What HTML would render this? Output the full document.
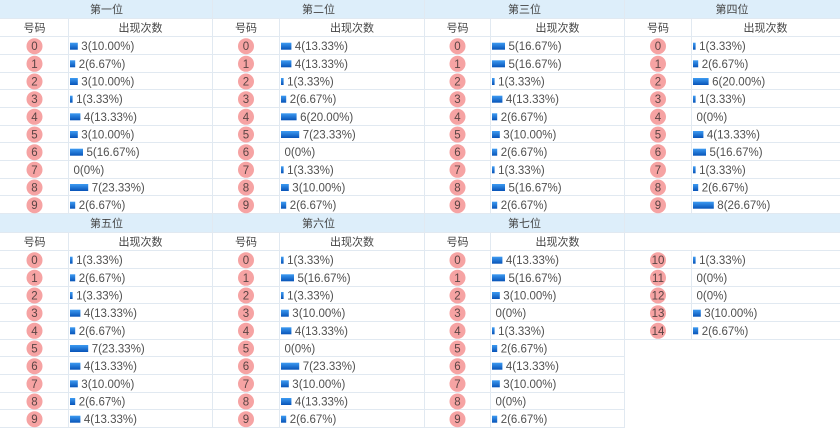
<!DOCTYPE html>
<html><head><meta charset="utf-8"><style>
html,body{margin:0;padding:0;background:#fff;}
svg{display:block;}
.h{font-family:"Liberation Sans","Noto Sans CJK SC",sans-serif;font-size:11px;fill:#444;text-anchor:middle;}
.n{font-family:"Liberation Sans",sans-serif;font-size:11.5px;fill:#5a4444;text-anchor:middle;}
.t{font-family:"Liberation Sans",sans-serif;font-size:11.5px;fill:#505050;}
circle{fill:#f6a3a3;}
rect.b{fill:url(#g);}
line{stroke:#e1e9f1;stroke-width:1;}
</style></head><body>
<svg width="840" height="442" viewBox="0 0 840 442" xmlns="http://www.w3.org/2000/svg">
<defs><linearGradient id="g" x1="0" y1="0" x2="0" y2="1"><stop offset="0" stop-color="#3d9bf2"/><stop offset="1" stop-color="#0753b8"/></linearGradient></defs>
<!-- header backgrounds -->
<rect x="0" y="0" width="840" height="18.5" fill="#ddeefa"/>
<rect x="0" y="214" width="840" height="18.5" fill="#ddeefa"/>
<!-- horizontal lines top -->
<line x1="0" y1="18.5" x2="840" y2="18.5"/>
<line x1="0" y1="36.5" x2="840" y2="36.5"/>
<line x1="0" y1="54.5" x2="840" y2="54.5"/>
<line x1="0" y1="72.5" x2="840" y2="72.5"/>
<line x1="0" y1="89.5" x2="840" y2="89.5"/>
<line x1="0" y1="107.5" x2="840" y2="107.5"/>
<line x1="0" y1="125.5" x2="840" y2="125.5"/>
<line x1="0" y1="142.5" x2="840" y2="142.5"/>
<line x1="0" y1="160.5" x2="840" y2="160.5"/>
<line x1="0" y1="178.5" x2="840" y2="178.5"/>
<line x1="0" y1="195.5" x2="840" y2="195.5"/>
<line x1="0" y1="213.5" x2="840" y2="213.5"/>
<!-- horizontal lines bottom -->
<line x1="0" y1="232.5" x2="840" y2="232.5"/>
<line x1="0" y1="250.5" x2="840" y2="250.5"/>
<line x1="0" y1="268.5" x2="840" y2="268.5"/>
<line x1="0" y1="286.5" x2="840" y2="286.5"/>
<line x1="0" y1="303.5" x2="840" y2="303.5"/>
<line x1="0" y1="321.5" x2="840" y2="321.5"/>
<line x1="0" y1="339.5" x2="840" y2="339.5"/>
<line x1="0" y1="356.5" x2="624.5" y2="356.5"/>
<line x1="0" y1="374.5" x2="624.5" y2="374.5"/>
<line x1="0" y1="392.5" x2="624.5" y2="392.5"/>
<line x1="0" y1="409.5" x2="624.5" y2="409.5"/>
<line x1="0" y1="427.5" x2="624.5" y2="427.5"/>
<!-- vertical block separators -->
<line x1="212.5" y1="0" x2="212.5" y2="428"/>
<line x1="424.5" y1="0" x2="424.5" y2="428"/>
<line x1="624.5" y1="0" x2="624.5" y2="428"/>
<!-- inner lines -->
<line x1="68.5" y1="19" x2="68.5" y2="214"/>
<line x1="279.5" y1="19" x2="279.5" y2="214"/>
<line x1="490.5" y1="19" x2="490.5" y2="214"/>
<line x1="691.5" y1="19" x2="691.5" y2="214"/>
<line x1="68.5" y1="233" x2="68.5" y2="428"/>
<line x1="279.5" y1="233" x2="279.5" y2="428"/>
<line x1="490.5" y1="233" x2="490.5" y2="428"/>
<line x1="691.5" y1="251" x2="691.5" y2="340"/>
<!-- headers -->
<text class="h" x="106.5" y="13">第一位</text>
<text class="h" x="318.5" y="13">第二位</text>
<text class="h" x="524.5" y="13">第三位</text>
<text class="h" x="732" y="13">第四位</text>
<text class="h" x="34.5" y="31.5">号码</text><text class="h" x="140.5" y="31.5">出现次数</text>
<text class="h" x="246" y="31.5">号码</text><text class="h" x="352" y="31.5">出现次数</text>
<text class="h" x="457.5" y="31.5">号码</text><text class="h" x="557.5" y="31.5">出现次数</text>
<text class="h" x="658" y="31.5">号码</text><text class="h" x="765.5" y="31.5">出现次数</text>
<text class="h" x="106.5" y="227">第五位</text>
<text class="h" x="318.5" y="227">第六位</text>
<text class="h" x="524.5" y="227">第七位</text>
<text class="h" x="34.5" y="245.5">号码</text><text class="h" x="140.5" y="245.5">出现次数</text>
<text class="h" x="246" y="245.5">号码</text><text class="h" x="352" y="245.5">出现次数</text>
<text class="h" x="457.5" y="245.5">号码</text><text class="h" x="557.5" y="245.5">出现次数</text>

<!-- Block 1 -->
<g transform="translate(68.5,0)">
<g transform="translate(0,46.2)"><circle cx="-34" r="8"/><text class="n" x="-34" y="4">0</text><rect class="b" x="1.5" y="-3.5" width="7.8" height="7"/><text class="t" x="12.8" y="4">3(10.00%)</text></g>
<g transform="translate(0,63.8)"><circle cx="-34" r="8"/><text class="n" x="-34" y="4">1</text><rect class="b" x="1.5" y="-3.5" width="5.2" height="7"/><text class="t" x="10.2" y="4">2(6.67%)</text></g>
<g transform="translate(0,81.5)"><circle cx="-34" r="8"/><text class="n" x="-34" y="4">2</text><rect class="b" x="1.5" y="-3.5" width="7.8" height="7"/><text class="t" x="12.8" y="4">3(10.00%)</text></g>
<g transform="translate(0,99.2)"><circle cx="-34" r="8"/><text class="n" x="-34" y="4">3</text><rect class="b" x="1.5" y="-3.5" width="2.6" height="7"/><text class="t" x="7.6" y="4">1(3.33%)</text></g>
<g transform="translate(0,116.8)"><circle cx="-34" r="8"/><text class="n" x="-34" y="4">4</text><rect class="b" x="1.5" y="-3.5" width="10.4" height="7"/><text class="t" x="15.4" y="4">4(13.33%)</text></g>
<g transform="translate(0,134.5)"><circle cx="-34" r="8"/><text class="n" x="-34" y="4">5</text><rect class="b" x="1.5" y="-3.5" width="7.8" height="7"/><text class="t" x="12.8" y="4">3(10.00%)</text></g>
<g transform="translate(0,152.2)"><circle cx="-34" r="8"/><text class="n" x="-34" y="4">6</text><rect class="b" x="1.5" y="-3.5" width="13" height="7"/><text class="t" x="18" y="4">5(16.67%)</text></g>
<g transform="translate(0,169.8)"><circle cx="-34" r="8"/><text class="n" x="-34" y="4">7</text><text class="t" x="5" y="4">0(0%)</text></g>
<g transform="translate(0,187.5)"><circle cx="-34" r="8"/><text class="n" x="-34" y="4">8</text><rect class="b" x="1.5" y="-3.5" width="18.2" height="7"/><text class="t" x="23.2" y="4">7(23.33%)</text></g>
<g transform="translate(0,205.2)"><circle cx="-34" r="8"/><text class="n" x="-34" y="4">9</text><rect class="b" x="1.5" y="-3.5" width="5.2" height="7"/><text class="t" x="10.2" y="4">2(6.67%)</text></g>
</g>

<!-- Block 2 -->
<g transform="translate(279.5,0)">
<g transform="translate(0,46.2)"><circle cx="-33.5" r="8"/><text class="n" x="-33.5" y="4">0</text><rect class="b" x="1.5" y="-3.5" width="10.4" height="7"/><text class="t" x="15.4" y="4">4(13.33%)</text></g>
<g transform="translate(0,63.8)"><circle cx="-33.5" r="8"/><text class="n" x="-33.5" y="4">1</text><rect class="b" x="1.5" y="-3.5" width="10.4" height="7"/><text class="t" x="15.4" y="4">4(13.33%)</text></g>
<g transform="translate(0,81.5)"><circle cx="-33.5" r="8"/><text class="n" x="-33.5" y="4">2</text><rect class="b" x="1.5" y="-3.5" width="2.6" height="7"/><text class="t" x="7.6" y="4">1(3.33%)</text></g>
<g transform="translate(0,99.2)"><circle cx="-33.5" r="8"/><text class="n" x="-33.5" y="4">3</text><rect class="b" x="1.5" y="-3.5" width="5.2" height="7"/><text class="t" x="10.2" y="4">2(6.67%)</text></g>
<g transform="translate(0,116.8)"><circle cx="-33.5" r="8"/><text class="n" x="-33.5" y="4">4</text><rect class="b" x="1.5" y="-3.5" width="15.6" height="7"/><text class="t" x="20.6" y="4">6(20.00%)</text></g>
<g transform="translate(0,134.5)"><circle cx="-33.5" r="8"/><text class="n" x="-33.5" y="4">5</text><rect class="b" x="1.5" y="-3.5" width="18.2" height="7"/><text class="t" x="23.2" y="4">7(23.33%)</text></g>
<g transform="translate(0,152.2)"><circle cx="-33.5" r="8"/><text class="n" x="-33.5" y="4">6</text><text class="t" x="5" y="4">0(0%)</text></g>
<g transform="translate(0,169.8)"><circle cx="-33.5" r="8"/><text class="n" x="-33.5" y="4">7</text><rect class="b" x="1.5" y="-3.5" width="2.6" height="7"/><text class="t" x="7.6" y="4">1(3.33%)</text></g>
<g transform="translate(0,187.5)"><circle cx="-33.5" r="8"/><text class="n" x="-33.5" y="4">8</text><rect class="b" x="1.5" y="-3.5" width="7.8" height="7"/><text class="t" x="12.8" y="4">3(10.00%)</text></g>
<g transform="translate(0,205.2)"><circle cx="-33.5" r="8"/><text class="n" x="-33.5" y="4">9</text><rect class="b" x="1.5" y="-3.5" width="5.2" height="7"/><text class="t" x="10.2" y="4">2(6.67%)</text></g>
</g>

<!-- Block 3 -->
<g transform="translate(490.5,0)">
<g transform="translate(0,46.2)"><circle cx="-33" r="8"/><text class="n" x="-33" y="4">0</text><rect class="b" x="1.5" y="-3.5" width="13" height="7"/><text class="t" x="18" y="4">5(16.67%)</text></g>
<g transform="translate(0,63.8)"><circle cx="-33" r="8"/><text class="n" x="-33" y="4">1</text><rect class="b" x="1.5" y="-3.5" width="13" height="7"/><text class="t" x="18" y="4">5(16.67%)</text></g>
<g transform="translate(0,81.5)"><circle cx="-33" r="8"/><text class="n" x="-33" y="4">2</text><rect class="b" x="1.5" y="-3.5" width="2.6" height="7"/><text class="t" x="7.6" y="4">1(3.33%)</text></g>
<g transform="translate(0,99.2)"><circle cx="-33" r="8"/><text class="n" x="-33" y="4">3</text><rect class="b" x="1.5" y="-3.5" width="10.4" height="7"/><text class="t" x="15.4" y="4">4(13.33%)</text></g>
<g transform="translate(0,116.8)"><circle cx="-33" r="8"/><text class="n" x="-33" y="4">4</text><rect class="b" x="1.5" y="-3.5" width="5.2" height="7"/><text class="t" x="10.2" y="4">2(6.67%)</text></g>
<g transform="translate(0,134.5)"><circle cx="-33" r="8"/><text class="n" x="-33" y="4">5</text><rect class="b" x="1.5" y="-3.5" width="7.8" height="7"/><text class="t" x="12.8" y="4">3(10.00%)</text></g>
<g transform="translate(0,152.2)"><circle cx="-33" r="8"/><text class="n" x="-33" y="4">6</text><rect class="b" x="1.5" y="-3.5" width="5.2" height="7"/><text class="t" x="10.2" y="4">2(6.67%)</text></g>
<g transform="translate(0,169.8)"><circle cx="-33" r="8"/><text class="n" x="-33" y="4">7</text><rect class="b" x="1.5" y="-3.5" width="2.6" height="7"/><text class="t" x="7.6" y="4">1(3.33%)</text></g>
<g transform="translate(0,187.5)"><circle cx="-33" r="8"/><text class="n" x="-33" y="4">8</text><rect class="b" x="1.5" y="-3.5" width="13" height="7"/><text class="t" x="18" y="4">5(16.67%)</text></g>
<g transform="translate(0,205.2)"><circle cx="-33" r="8"/><text class="n" x="-33" y="4">9</text><rect class="b" x="1.5" y="-3.5" width="5.2" height="7"/><text class="t" x="10.2" y="4">2(6.67%)</text></g>
</g>

<!-- Block 4 -->
<g transform="translate(691.5,0)">
<g transform="translate(0,46.2)"><circle cx="-33.5" r="8"/><text class="n" x="-33.5" y="4">0</text><rect class="b" x="1.5" y="-3.5" width="2.6" height="7"/><text class="t" x="7.6" y="4">1(3.33%)</text></g>
<g transform="translate(0,63.8)"><circle cx="-33.5" r="8"/><text class="n" x="-33.5" y="4">1</text><rect class="b" x="1.5" y="-3.5" width="5.2" height="7"/><text class="t" x="10.2" y="4">2(6.67%)</text></g>
<g transform="translate(0,81.5)"><circle cx="-33.5" r="8"/><text class="n" x="-33.5" y="4">2</text><rect class="b" x="1.5" y="-3.5" width="15.6" height="7"/><text class="t" x="20.6" y="4">6(20.00%)</text></g>
<g transform="translate(0,99.2)"><circle cx="-33.5" r="8"/><text class="n" x="-33.5" y="4">3</text><rect class="b" x="1.5" y="-3.5" width="2.6" height="7"/><text class="t" x="7.6" y="4">1(3.33%)</text></g>
<g transform="translate(0,116.8)"><circle cx="-33.5" r="8"/><text class="n" x="-33.5" y="4">4</text><text class="t" x="5" y="4">0(0%)</text></g>
<g transform="translate(0,134.5)"><circle cx="-33.5" r="8"/><text class="n" x="-33.5" y="4">5</text><rect class="b" x="1.5" y="-3.5" width="10.4" height="7"/><text class="t" x="15.4" y="4">4(13.33%)</text></g>
<g transform="translate(0,152.2)"><circle cx="-33.5" r="8"/><text class="n" x="-33.5" y="4">6</text><rect class="b" x="1.5" y="-3.5" width="13" height="7"/><text class="t" x="18" y="4">5(16.67%)</text></g>
<g transform="translate(0,169.8)"><circle cx="-33.5" r="8"/><text class="n" x="-33.5" y="4">7</text><rect class="b" x="1.5" y="-3.5" width="2.6" height="7"/><text class="t" x="7.6" y="4">1(3.33%)</text></g>
<g transform="translate(0,187.5)"><circle cx="-33.5" r="8"/><text class="n" x="-33.5" y="4">8</text><rect class="b" x="1.5" y="-3.5" width="5.2" height="7"/><text class="t" x="10.2" y="4">2(6.67%)</text></g>
<g transform="translate(0,205.2)"><circle cx="-33.5" r="8"/><text class="n" x="-33.5" y="4">9</text><rect class="b" x="1.5" y="-3.5" width="20.8" height="7"/><text class="t" x="25.8" y="4">8(26.67%)</text></g>
</g>

<!-- Block 5 -->
<g transform="translate(68.5,0)">
<g transform="translate(0,260.2)"><circle cx="-34" r="8"/><text class="n" x="-34" y="4">0</text><rect class="b" x="1.5" y="-3.5" width="2.6" height="7"/><text class="t" x="7.6" y="4">1(3.33%)</text></g>
<g transform="translate(0,277.8)"><circle cx="-34" r="8"/><text class="n" x="-34" y="4">1</text><rect class="b" x="1.5" y="-3.5" width="5.2" height="7"/><text class="t" x="10.2" y="4">2(6.67%)</text></g>
<g transform="translate(0,295.5)"><circle cx="-34" r="8"/><text class="n" x="-34" y="4">2</text><rect class="b" x="1.5" y="-3.5" width="2.6" height="7"/><text class="t" x="7.6" y="4">1(3.33%)</text></g>
<g transform="translate(0,313.2)"><circle cx="-34" r="8"/><text class="n" x="-34" y="4">3</text><rect class="b" x="1.5" y="-3.5" width="10.4" height="7"/><text class="t" x="15.4" y="4">4(13.33%)</text></g>
<g transform="translate(0,330.8)"><circle cx="-34" r="8"/><text class="n" x="-34" y="4">4</text><rect class="b" x="1.5" y="-3.5" width="5.2" height="7"/><text class="t" x="10.2" y="4">2(6.67%)</text></g>
<g transform="translate(0,348.5)"><circle cx="-34" r="8"/><text class="n" x="-34" y="4">5</text><rect class="b" x="1.5" y="-3.5" width="18.2" height="7"/><text class="t" x="23.2" y="4">7(23.33%)</text></g>
<g transform="translate(0,366.2)"><circle cx="-34" r="8"/><text class="n" x="-34" y="4">6</text><rect class="b" x="1.5" y="-3.5" width="10.4" height="7"/><text class="t" x="15.4" y="4">4(13.33%)</text></g>
<g transform="translate(0,383.8)"><circle cx="-34" r="8"/><text class="n" x="-34" y="4">7</text><rect class="b" x="1.5" y="-3.5" width="7.8" height="7"/><text class="t" x="12.8" y="4">3(10.00%)</text></g>
<g transform="translate(0,401.5)"><circle cx="-34" r="8"/><text class="n" x="-34" y="4">8</text><rect class="b" x="1.5" y="-3.5" width="5.2" height="7"/><text class="t" x="10.2" y="4">2(6.67%)</text></g>
<g transform="translate(0,419.2)"><circle cx="-34" r="8"/><text class="n" x="-34" y="4">9</text><rect class="b" x="1.5" y="-3.5" width="10.4" height="7"/><text class="t" x="15.4" y="4">4(13.33%)</text></g>
</g>

<!-- Block 6 -->
<g transform="translate(279.5,0)">
<g transform="translate(0,260.2)"><circle cx="-33.5" r="8"/><text class="n" x="-33.5" y="4">0</text><rect class="b" x="1.5" y="-3.5" width="2.6" height="7"/><text class="t" x="7.6" y="4">1(3.33%)</text></g>
<g transform="translate(0,277.8)"><circle cx="-33.5" r="8"/><text class="n" x="-33.5" y="4">1</text><rect class="b" x="1.5" y="-3.5" width="13" height="7"/><text class="t" x="18" y="4">5(16.67%)</text></g>
<g transform="translate(0,295.5)"><circle cx="-33.5" r="8"/><text class="n" x="-33.5" y="4">2</text><rect class="b" x="1.5" y="-3.5" width="2.6" height="7"/><text class="t" x="7.6" y="4">1(3.33%)</text></g>
<g transform="translate(0,313.2)"><circle cx="-33.5" r="8"/><text class="n" x="-33.5" y="4">3</text><rect class="b" x="1.5" y="-3.5" width="7.8" height="7"/><text class="t" x="12.8" y="4">3(10.00%)</text></g>
<g transform="translate(0,330.8)"><circle cx="-33.5" r="8"/><text class="n" x="-33.5" y="4">4</text><rect class="b" x="1.5" y="-3.5" width="10.4" height="7"/><text class="t" x="15.4" y="4">4(13.33%)</text></g>
<g transform="translate(0,348.5)"><circle cx="-33.5" r="8"/><text class="n" x="-33.5" y="4">5</text><text class="t" x="5" y="4">0(0%)</text></g>
<g transform="translate(0,366.2)"><circle cx="-33.5" r="8"/><text class="n" x="-33.5" y="4">6</text><rect class="b" x="1.5" y="-3.5" width="18.2" height="7"/><text class="t" x="23.2" y="4">7(23.33%)</text></g>
<g transform="translate(0,383.8)"><circle cx="-33.5" r="8"/><text class="n" x="-33.5" y="4">7</text><rect class="b" x="1.5" y="-3.5" width="7.8" height="7"/><text class="t" x="12.8" y="4">3(10.00%)</text></g>
<g transform="translate(0,401.5)"><circle cx="-33.5" r="8"/><text class="n" x="-33.5" y="4">8</text><rect class="b" x="1.5" y="-3.5" width="10.4" height="7"/><text class="t" x="15.4" y="4">4(13.33%)</text></g>
<g transform="translate(0,419.2)"><circle cx="-33.5" r="8"/><text class="n" x="-33.5" y="4">9</text><rect class="b" x="1.5" y="-3.5" width="5.2" height="7"/><text class="t" x="10.2" y="4">2(6.67%)</text></g>
</g>

<!-- Block 7 -->
<g transform="translate(490.5,0)">
<g transform="translate(0,260.2)"><circle cx="-33" r="8"/><text class="n" x="-33" y="4">0</text><rect class="b" x="1.5" y="-3.5" width="10.4" height="7"/><text class="t" x="15.4" y="4">4(13.33%)</text></g>
<g transform="translate(0,277.8)"><circle cx="-33" r="8"/><text class="n" x="-33" y="4">1</text><rect class="b" x="1.5" y="-3.5" width="13" height="7"/><text class="t" x="18" y="4">5(16.67%)</text></g>
<g transform="translate(0,295.5)"><circle cx="-33" r="8"/><text class="n" x="-33" y="4">2</text><rect class="b" x="1.5" y="-3.5" width="7.8" height="7"/><text class="t" x="12.8" y="4">3(10.00%)</text></g>
<g transform="translate(0,313.2)"><circle cx="-33" r="8"/><text class="n" x="-33" y="4">3</text><text class="t" x="5" y="4">0(0%)</text></g>
<g transform="translate(0,330.8)"><circle cx="-33" r="8"/><text class="n" x="-33" y="4">4</text><rect class="b" x="1.5" y="-3.5" width="2.6" height="7"/><text class="t" x="7.6" y="4">1(3.33%)</text></g>
<g transform="translate(0,348.5)"><circle cx="-33" r="8"/><text class="n" x="-33" y="4">5</text><rect class="b" x="1.5" y="-3.5" width="5.2" height="7"/><text class="t" x="10.2" y="4">2(6.67%)</text></g>
<g transform="translate(0,366.2)"><circle cx="-33" r="8"/><text class="n" x="-33" y="4">6</text><rect class="b" x="1.5" y="-3.5" width="10.4" height="7"/><text class="t" x="15.4" y="4">4(13.33%)</text></g>
<g transform="translate(0,383.8)"><circle cx="-33" r="8"/><text class="n" x="-33" y="4">7</text><rect class="b" x="1.5" y="-3.5" width="7.8" height="7"/><text class="t" x="12.8" y="4">3(10.00%)</text></g>
<g transform="translate(0,401.5)"><circle cx="-33" r="8"/><text class="n" x="-33" y="4">8</text><text class="t" x="5" y="4">0(0%)</text></g>
<g transform="translate(0,419.2)"><circle cx="-33" r="8"/><text class="n" x="-33" y="4">9</text><rect class="b" x="1.5" y="-3.5" width="5.2" height="7"/><text class="t" x="10.2" y="4">2(6.67%)</text></g>
</g>

<!-- Block 8 -->
<g transform="translate(691.5,0)">
<g transform="translate(0,260.2)"><circle cx="-33.5" r="8"/><text class="n" x="-33.5" y="4">10</text><rect class="b" x="1.5" y="-3.5" width="2.6" height="7"/><text class="t" x="7.6" y="4">1(3.33%)</text></g>
<g transform="translate(0,277.8)"><circle cx="-33.5" r="8"/><text class="n" x="-33.5" y="4">11</text><text class="t" x="5" y="4">0(0%)</text></g>
<g transform="translate(0,295.5)"><circle cx="-33.5" r="8"/><text class="n" x="-33.5" y="4">12</text><text class="t" x="5" y="4">0(0%)</text></g>
<g transform="translate(0,313.2)"><circle cx="-33.5" r="8"/><text class="n" x="-33.5" y="4">13</text><rect class="b" x="1.5" y="-3.5" width="7.8" height="7"/><text class="t" x="12.8" y="4">3(10.00%)</text></g>
<g transform="translate(0,330.8)"><circle cx="-33.5" r="8"/><text class="n" x="-33.5" y="4">14</text><rect class="b" x="1.5" y="-3.5" width="5.2" height="7"/><text class="t" x="10.2" y="4">2(6.67%)</text></g>
</g>
</svg>
</body></html>
